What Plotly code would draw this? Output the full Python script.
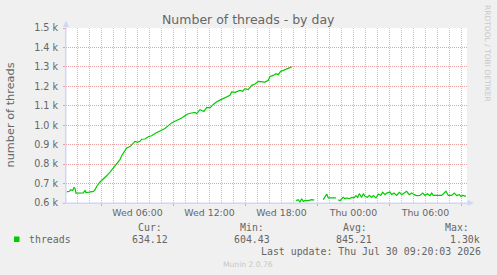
import plotly.graph_objects as go

# ---- data (hours since Wed 00:00, threads) ----
hours = [0.10, 0.32, 0.43, 0.60, 0.71, 0.79, 0.875, 1.21, 1.48, 1.63, 1.71, 1.98, 2.32, 2.46, 2.60,
         2.875, 3.15, 3.43, 3.71, 3.98, 4.27, 4.54, 4.68, 4.82, 4.96, 5.10, 5.375, 5.65, 5.79, 5.98,
         6.21, 6.35, 6.625, 6.90, 7.18, 7.46, 7.73, 8.02, 8.29, 8.57, 8.85, 9.125, 9.40, 9.68, 9.96,
         10.23, 10.52, 10.79, 10.93, 11.21, 11.35, 11.54, 11.77, 12.04, 12.32, 12.60, 12.875, 13.15,
         13.43, 13.71, 13.85, 14.125, 14.54, 14.77, 14.96, 15.23, 15.52, 15.79, 16.07, 16.35, 16.625,
         16.90, 17.04, 17.32, 17.54, 17.73, 17.93, 18.15, 18.43, 18.71, 18.85,
         19.0,
         19.21, 19.40, 19.54, 19.68, 19.82, 19.96, 20.23, 20.52, 20.73,
         21.0,
         21.48, 21.625, 21.77, 21.90, 22.18, 22.54,
         22.62,
         22.73, 22.875, 23.02, 23.15, 23.29, 23.43, 23.65, 23.85, 24.04, 24.21, 24.35, 24.48, 24.68,
         24.82, 24.96, 25.15, 25.32, 25.52, 25.65, 25.875, 26.07, 26.27, 26.43, 26.625, 26.77, 27.04,
         27.18, 27.375, 27.60, 27.82, 28.02, 28.21, 28.43, 28.65, 28.85, 29.04, 29.27, 29.54, 29.77,
         29.96, 30.15, 30.375, 30.52, 30.65, 30.875, 31.07, 31.35, 31.71, 31.90, 32.18, 32.40, 32.60,
         32.82, 32.96, 33.10, 33.375]
threads = [657, 660, 668, 664, 680, 676, 651, 651, 652, 665, 654, 656, 660, 668, 685,
           708, 723, 740, 759, 780, 802, 823, 843, 857, 875, 883, 890, 906, 917, 912,
           917, 928, 929, 941, 946, 957, 966, 974, 983, 998, 1012, 1020, 1028, 1037, 1049,
           1059, 1063, 1066, 1059, 1080, 1076, 1071, 1092, 1089, 1107, 1121, 1129, 1137,
           1149, 1154, 1171, 1169, 1179, 1174, 1188, 1183, 1205, 1212, 1226, 1222, 1222,
           1231, 1251, 1256, 1265, 1260, 1277, 1282, 1289, 1300, 1300,
           None,
           612, 617, 605, 622, 608, 613, 612, 617, 615,
           None,
           617, 629, 646, 626, 626, 626,
           None,
           617, 612, 622, 629, 622, 626, 622, 629, 626, 638, 629, 648, 629,
           648, 634, 629, 639, 629, 638, 626, 646, 639, 655, 643, 651, 657,
           643, 651, 639, 655, 643, 651, 660, 643, 651, 643, 638, 639, 651,
           639, 648, 638, 651, 639, 638, 638, 639, 660, 639, 639, 651, 638,
           643, 634, 639, 634]

x_label_hours = [6, 12, 18, 24, 30]
x_label_text = ["Wed 06:00", "Wed 12:00", "Wed 18:00", "Thu 00:00", "Thu 06:00"]
x_minor_hours = list(range(1, 34))
x_major_hours = [3, 9, 15, 21, 27, 33]
y_ticks = [600, 700, 800, 900, 1000, 1100, 1200, 1300, 1400, 1500]
y_tick_text = ["0.6 k", "0.7 k", "0.8 k", "0.9 k", "1.0 k", "1.1 k", "1.2 k", "1.3 k", "1.4 k", "1.5 k"]
stat_names = ["Cur:", "Min:", "Avg:", "Max:"]
stat_values = ["634.12", "604.43", "845.21", "1.30k"]
series_name = "threads"
last_update = "Last update: Thu Jul 30 09:20:03 2026"

# ---- layout constants ----
W, H = 497, 275
ML, MR, MT, MB = 66, 30, 28, 72
PW, PH = W - ML - MR, H - MT - MB
X_RANGE = [0.042, 33.46]
GREEN = "#00cc00"
MGRID = "#EBA0A0"
GRID = "#C4C4C4"
AXIS = "#CFD6F8"
FONT = "#666666"
SANS = "DejaVu Sans"
MONO = "DejaVu Sans Mono"


def px(x):
    return (x - ML) / PW


def py(y):
    return (H - MB - y) / PH


fig = go.Figure()
fig.add_trace(go.Scatter(x=hours, y=threads, mode="lines", line=dict(color=GREEN, width=1.2),
                         connectgaps=False, hoverinfo="skip", showlegend=False))
# helper traces so the extra grid axes are drawn
fig.add_trace(go.Scatter(x=x_minor_hours, y=[None] * len(x_minor_hours), xaxis="x3",
                         mode="lines", hoverinfo="skip", showlegend=False))
fig.add_trace(go.Scatter(x=x_major_hours, y=[None] * len(x_major_hours), xaxis="x2",
                         mode="lines", hoverinfo="skip", showlegend=False))

fig.update_layout(
    width=W, height=H,
    margin=dict(l=ML, r=MR, t=MT, b=MB, pad=0),
    paper_bgcolor="#F0F0F0", plot_bgcolor="#FFFFFF",
    showlegend=False,
    xaxis=dict(range=X_RANGE, tickmode="array", tickvals=x_label_hours, ticktext=x_label_text,
               showgrid=False,
               showline=True, linecolor=AXIS, linewidth=1, zeroline=False,
               ticks="", tickfont=dict(family=SANS, size=9.4, color=FONT),
               ticklabelstandoff=1, fixedrange=True),
    xaxis3=dict(range=X_RANGE, overlaying="x", anchor="y", side="bottom",
                tickmode="array", tickvals=x_minor_hours, showticklabels=False,
                showgrid=True, gridcolor=GRID, griddash="1px,1px", gridwidth=1,
                ticks="", showline=False, zeroline=False, fixedrange=True),
    xaxis2=dict(range=X_RANGE, overlaying="x", anchor="y", side="bottom",
                tickmode="array", tickvals=x_major_hours, showticklabels=False,
                showgrid=True, gridcolor=MGRID, griddash="1px,1px", gridwidth=1,
                ticks="outside", ticklen=2, tickcolor=MGRID,
                showline=False, zeroline=False, fixedrange=True),
    yaxis=dict(range=[600, 1500], tickvals=y_ticks, ticktext=y_tick_text,
               showgrid=True, gridcolor=MGRID, griddash="1px,1px", gridwidth=1,
               showline=True, linecolor=AXIS, linewidth=1, zeroline=False,
               ticks="outside", ticklen=2, tickcolor=MGRID,
               tickfont=dict(family=SANS, size=9.6, color=FONT),
               ticklabelstandoff=3, fixedrange=True),
)

P = dict(xref="paper", yref="paper", showarrow=False)
ann = []
ann.append(dict(P, x=px(248), y=py(19), text="Number of threads - by day",
                xanchor="center", yanchor="middle",
                font=dict(family=SANS, size=12.5, color=FONT)))
ann.append(dict(P, x=px(10), y=py(115.5), text="number of threads", textangle=-90,
                xanchor="center", yanchor="middle",
                font=dict(family=SANS, size=11.3, color=FONT)))
ann.append(dict(P, x=px(488), y=py(53), text="RRDTOOL / TOBI OETIKER", textangle=90,
                xanchor="center", yanchor="middle",
                font=dict(family=SANS, size=7.5, color="#C8C8C8")))
ann.append(dict(P, x=px(26.5), y=py(239.3), text=series_name, xanchor="left",
                yanchor="middle", font=dict(family=MONO, size=9.9, color=FONT)))
name_right = [163.5, 266, 368.5, 470.5]
value_right = [170, 272, 374, 482]
for nm, vl, nx, vx in zip(stat_names, stat_values, name_right, value_right):
    ann.append(dict(P, x=px(nx), y=py(227.7), text=nm, xanchor="right",
                    yanchor="middle", font=dict(family=MONO, size=9.9, color=FONT)))
    ann.append(dict(P, x=px(vx), y=py(239.3), text=vl, xanchor="right",
                    yanchor="middle", font=dict(family=MONO, size=9.9, color=FONT)))
ann.append(dict(P, x=px(483), y=py(251), text=last_update, xanchor="right",
                yanchor="middle", font=dict(family=MONO, size=9.9, color=FONT)))
ann.append(dict(P, x=px(248), y=py(264.5), text="Munin 2.0.76", xanchor="center",
                yanchor="middle", font=dict(family=SANS, size=7.6, color="#C8C8C8")))
fig.update_layout(annotations=ann)

shapes = []
shapes.append(dict(type="rect", xref="paper", yref="paper", x0=px(14), x1=px(19.5),
                   y0=py(242), y1=py(236.5), fillcolor=GREEN, line=dict(width=0)))
shapes.append(dict(type="path", xref="paper", yref="paper",
                   path=f"M {px(66)} {py(20.5)} L {px(63)} {py(27)} L {px(69)} {py(27)} Z",
                   fillcolor=AXIS, line=dict(width=0)))
shapes.append(dict(type="line", xref="paper", yref="paper", x0=px(66), x1=px(66),
                   y0=py(203), y1=py(26), line=dict(color=AXIS, width=1)))
shapes.append(dict(type="path", xref="paper", yref="paper",
                   path=f"M {px(474)} {py(203)} L {px(467.5)} {py(200)} L {px(467.5)} {py(206)} Z",
                   fillcolor=AXIS, line=dict(width=0)))
shapes.append(dict(type="line", xref="paper", yref="paper", x0=px(62), x1=px(468),
                   y0=py(203), y1=py(203), line=dict(color=AXIS, width=1)))
fig.update_layout(shapes=shapes)

fig.write_html("out.html")
